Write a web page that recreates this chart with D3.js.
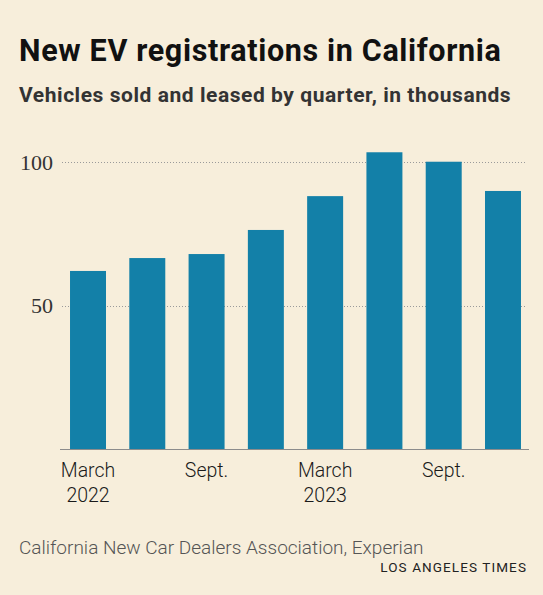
<!DOCTYPE html>
<html>
<head>
<meta charset="utf-8">
<script src="https://cdn.jsdelivr.net/npm/d3@7"></script>
<style>
  html, body { margin: 0; padding: 0; background: #f7eedb; }
  svg { display: block; }
</style>
</head>
<body>
<svg id="chart" width="543" height="595"></svg>
<script>
const quarters = ["Q1 2022", "Q2 2022", "Q3 2022", "Q4 2022", "Q1 2023", "Q2 2023", "Q3 2023", "Q4 2023"];
const registrations = [62.1, 66.6, 68.0, 76.4, 88.2, 103.5, 100.2, 90.0];
const yTicks = [50, 100];
const xTickLabels = [
  { q: "Q1 2022", lines: ["March", "2022"] },
  { q: "Q3 2022", lines: ["Sept."] },
  { q: "Q1 2023", lines: ["March", "2023"] },
  { q: "Q3 2023", lines: ["Sept."] }
];
const title = "New EV registrations in California";
const subtitle = "Vehicles sold and leased by quarter, in thousands";
const source = "California New Car Dealers Association, Experian";
const credit = "LOS ANGELES TIMES";

const svg = d3.select("#chart");
svg.append("rect").attr("width", 543).attr("height", 595).attr("fill", "#f7eedb");

const x = d3.scaleBand().domain(quarters).range([60, 531]).paddingInner(0.393).paddingOuter(0.169);
const y = d3.scaleLinear().domain([0, 100]).range([449, 162.3]);

svg.append("text").attr("x", 19).attr("y", 61)
  .attr("font-family", "Roboto, sans-serif").attr("font-weight", 700).attr("font-size", 30.5)
  .attr("letter-spacing", 0.65)
  .attr("fill", "#111").text(title);
svg.append("text").attr("x", 19).attr("y", 102)
  .attr("font-family", "Roboto, sans-serif").attr("font-weight", 700).attr("font-size", 21)
  .attr("letter-spacing", 0.55)
  .attr("fill", "#333").text(subtitle);

// gridlines
const grid = svg.append("g");
grid.selectAll("line").data(yTicks).join("line")
  .attr("x1", 62).attr("x2", 527)
  .attr("y1", d => Math.round(y(d)) + 0.5).attr("y2", d => Math.round(y(d)) + 0.5)
  .attr("stroke", "#9a9a9a").attr("stroke-width", 1).attr("stroke-dasharray", "1,2");
grid.selectAll("text").data(yTicks).join("text")
  .attr("x", 53).attr("y", d => y(d) + 7.5).attr("text-anchor", "end")
  .attr("font-family", "'Liberation Serif', serif").attr("font-size", 22)
  .attr("fill", "#333").text(d => d);

// bars
svg.append("g").selectAll("rect").data(registrations).join("rect")
  .attr("x", (d, i) => x(quarters[i]))
  .attr("width", x.bandwidth())
  .attr("y", d => y(d))
  .attr("height", d => y(0) - y(d))
  .attr("fill", "#1380a8");

// baseline
svg.append("line").attr("x1", 60).attr("x2", 529)
  .attr("y1", y(0) + 0.5).attr("y2", y(0) + 0.5)
  .attr("stroke", "#8c8c8c").attr("stroke-width", 1);

// x labels
const xl = svg.append("g").selectAll("text").data(xTickLabels).join("text")
  .attr("text-anchor", "middle")
  .attr("font-family", "Roboto, sans-serif").attr("font-weight", 300).attr("font-size", 19.5)
  .attr("fill", "#1a1a1a");
xl.selectAll("tspan").data(d => d.lines.map(l => ({ l, q: d.q }))).join("tspan")
  .attr("x", d => x(d.q) + x.bandwidth() / 2)
  .attr("y", (d, i) => 477 + i * 24.5)
  .text(d => d.l);

svg.append("text").attr("x", 19).attr("y", 554)
  .attr("font-family", "Roboto, sans-serif").attr("font-weight", 300).attr("font-size", 19)
  .attr("fill", "#555").text(source);
svg.append("text").attr("x", 527).attr("y", 572).attr("text-anchor", "end")
  .attr("font-family", "Roboto, sans-serif").attr("font-weight", 400).attr("font-size", 13.5)
  .attr("letter-spacing", 1.1)
  .attr("fill", "#222").text(credit);
</script>
</body>
</html>
